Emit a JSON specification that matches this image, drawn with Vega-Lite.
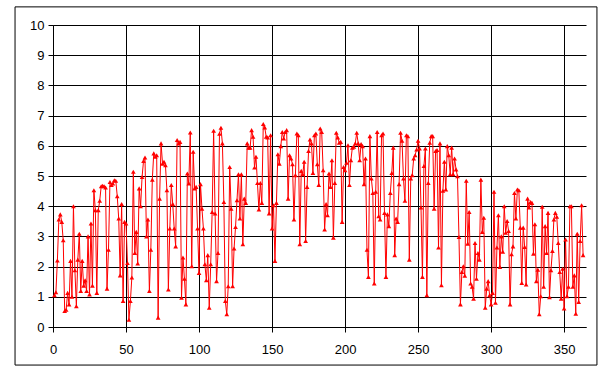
{
"$schema": "https://vega.github.io/schema/vega-lite/v6.json",
"width": 533, "height": 302,
"autosize": {"type": "none"},
"padding": {"left": 53, "top": 25, "right": 13, "bottom": 40},
"background": "white",
"config": {"view": {"stroke": null},
 "axis": {"title": null, "grid": true, "gridColor": "#000", "gridWidth": 1, "gridOpacity": 1, "domainColor": "#000", "tickColor": "#000", "tickSize": 5, "labelFont": "Liberation Sans", "labelFontSize": 13, "labelColor": "#000", "labelFlush": false, "labelOverlap": false}},
"layer": [
 {"data": {"values": [
{"day":1,"v":1.05},{"day":2,"v":1.15},{"day":3,"v":2.2},{"day":4,"v":3.56},{"day":5,"v":3.73},{"day":6,"v":3.48},{"day":7,"v":2.87},{"day":8,"v":0.53},{"day":9,"v":0.57},{"day":10,"v":1.13},
{"day":11,"v":0.75},{"day":12,"v":2.19},{"day":13,"v":1.0},{"day":14,"v":4.0},{"day":15,"v":1.88},{"day":16,"v":0.69},{"day":17,"v":2.23},{"day":18,"v":3.09},{"day":19,"v":1.19},{"day":20,"v":2.19},
{"day":21,"v":1.37},{"day":22,"v":1.55},{"day":23,"v":1.19},{"day":24,"v":3.0},{"day":25,"v":1.08},{"day":26,"v":3.43},{"day":27,"v":1.37},{"day":28,"v":4.53},{"day":29,"v":3.87},{"day":30,"v":1.13},
{"day":31,"v":3.87},{"day":32,"v":4.18},{"day":33,"v":4.66},{"day":34,"v":4.68},{"day":35,"v":4.66},{"day":36,"v":4.62},{"day":37,"v":1.27},{"day":38,"v":2.56},{"day":39,"v":4.8},{"day":40,"v":4.7},
{"day":41,"v":4.75},{"day":42,"v":4.86},{"day":43,"v":4.84},{"day":44,"v":4.33},{"day":45,"v":3.59},{"day":46,"v":1.71},{"day":47,"v":4.07},{"day":48,"v":0.86},{"day":49,"v":3.48},{"day":50,"v":3.43},
{"day":51,"v":2.12},{"day":52,"v":0.24},{"day":53,"v":0.86},{"day":54,"v":1.64},{"day":55,"v":5.14},{"day":56,"v":2.45},{"day":57,"v":3.15},{"day":58,"v":2.1},{"day":59,"v":4.59},{"day":60,"v":4.0},
{"day":61,"v":4.97},{"day":62,"v":5.5},{"day":63,"v":5.61},{"day":64,"v":3.0},{"day":65,"v":3.56},{"day":66,"v":1.19},{"day":67,"v":2.56},{"day":68,"v":4.88},{"day":69,"v":5.75},{"day":70,"v":5.64},
{"day":71,"v":5.69},{"day":72,"v":0.31},{"day":73,"v":4.25},{"day":74,"v":6.08},{"day":75,"v":5.41},{"day":76,"v":5.47},{"day":77,"v":5.36},{"day":78,"v":4.53},{"day":79,"v":1.24},{"day":80,"v":3.26},
{"day":81,"v":4.7},{"day":82,"v":4.07},{"day":83,"v":3.26},{"day":84,"v":2.67},{"day":85,"v":6.19},{"day":86,"v":6.08},{"day":87,"v":6.13},{"day":88,"v":0.97},{"day":89,"v":2.3},{"day":90,"v":1.6},
{"day":91,"v":0.75},{"day":92,"v":5.08},{"day":93,"v":4.75},{"day":94,"v":6.44},{"day":95,"v":2.01},{"day":96,"v":5.8},{"day":97,"v":4.59},{"day":98,"v":4.64},{"day":99,"v":3.26},{"day":100,"v":1.79},
{"day":101,"v":4.73},{"day":102,"v":3.92},{"day":103,"v":3.26},{"day":104,"v":2.08},{"day":105,"v":1.55},{"day":106,"v":2.38},{"day":107,"v":0.64},{"day":108,"v":2.08},{"day":109,"v":3.81},{"day":110,"v":6.5},
{"day":111,"v":3.76},{"day":112,"v":1.52},{"day":113,"v":2.45},{"day":114,"v":6.4},{"day":115,"v":6.6},{"day":116,"v":6.08},{"day":117,"v":4.14},{"day":118,"v":0.86},{"day":119,"v":0.42},{"day":120,"v":1.35},
{"day":121,"v":5.3},{"day":122,"v":3.92},{"day":123,"v":1.35},{"day":124,"v":2.6},{"day":125,"v":3.31},{"day":126,"v":4.2},{"day":127,"v":5.06},{"day":128,"v":3.59},{"day":129,"v":5.06},{"day":130,"v":2.74},
{"day":131,"v":4.25},{"day":132,"v":4.11},{"day":133,"v":6.08},{"day":134,"v":5.94},{"day":135,"v":5.94},{"day":136,"v":6.52},{"day":137,"v":6.3},{"day":138,"v":5.28},{"day":139,"v":5.64},{"day":140,"v":4.77},
{"day":141,"v":3.89},{"day":142,"v":4.77},{"day":143,"v":4.11},{"day":144,"v":6.72},{"day":145,"v":6.61},{"day":146,"v":6.3},{"day":147,"v":6.28},{"day":148,"v":3.76},{"day":149,"v":6.35},{"day":150,"v":3.26},
{"day":151,"v":4.03},{"day":152,"v":2.19},{"day":153,"v":4.11},{"day":154,"v":5.72},{"day":155,"v":5.41},{"day":156,"v":5.99},{"day":157,"v":6.46},{"day":158,"v":6.24},{"day":159,"v":6.46},{"day":160,"v":6.52},
{"day":161,"v":4.25},{"day":162,"v":5.69},{"day":163,"v":5.58},{"day":164,"v":5.39},{"day":165,"v":3.56},{"day":166,"v":5.03},{"day":167,"v":6.41},{"day":168,"v":6.35},{"day":169,"v":2.74},{"day":170,"v":5.17},
{"day":171,"v":5.06},{"day":172,"v":5.47},{"day":173,"v":2.85},{"day":174,"v":4.64},{"day":175,"v":5.83},{"day":176,"v":6.21},{"day":177,"v":6.08},{"day":178,"v":5.1},{"day":179,"v":6.35},{"day":180,"v":6.41},
{"day":181,"v":5.39},{"day":182,"v":4.7},{"day":183,"v":6.57},{"day":184,"v":6.46},{"day":185,"v":5.19},{"day":186,"v":3.23},{"day":187,"v":4.07},{"day":188,"v":3.7},{"day":189,"v":5.08},{"day":190,"v":4.64},
{"day":191,"v":5.52},{"day":192,"v":2.96},{"day":193,"v":4.77},{"day":194,"v":6.43},{"day":195,"v":6.28},{"day":196,"v":6.1},{"day":197,"v":6.13},{"day":198,"v":3.48},{"day":199,"v":5.3},{"day":200,"v":5.19},
{"day":201,"v":5.44},{"day":202,"v":6.02},{"day":203,"v":4.7},{"day":204,"v":5.52},{"day":205,"v":5.94},{"day":206,"v":5.97},{"day":207,"v":6.08},{"day":208,"v":6.43},{"day":209,"v":6.08},{"day":210,"v":5.52},
{"day":211,"v":6.06},{"day":212,"v":5.99},{"day":213,"v":4.73},{"day":214,"v":5.58},{"day":215,"v":2.56},{"day":216,"v":1.66},{"day":217,"v":6.32},{"day":218,"v":4.92},{"day":219,"v":4.44},{"day":220,"v":1.44},
{"day":221,"v":4.48},{"day":222,"v":6.46},{"day":223,"v":3.67},{"day":224,"v":3.56},{"day":225,"v":6.35},{"day":226,"v":6.41},{"day":227,"v":3.78},{"day":228,"v":1.66},{"day":229,"v":3.73},{"day":230,"v":3.34},
{"day":231,"v":4.44},{"day":232,"v":5.1},{"day":233,"v":5.94},{"day":234,"v":2.38},{"day":235,"v":3.59},{"day":236,"v":3.48},{"day":237,"v":4.73},{"day":238,"v":6.43},{"day":239,"v":6.17},{"day":240,"v":4.92},
{"day":241,"v":4.18},{"day":242,"v":6.35},{"day":243,"v":6.32},{"day":244,"v":2.23},{"day":245,"v":4.92},{"day":246,"v":5.03},{"day":247,"v":5.58},{"day":248,"v":5.69},{"day":249,"v":5.88},{"day":250,"v":6.17},
{"day":251,"v":5.91},{"day":252,"v":3.96},{"day":253,"v":1.66},{"day":254,"v":5.33},{"day":255,"v":5.91},{"day":256,"v":1.05},{"day":257,"v":4.77},{"day":258,"v":6.1},{"day":259,"v":6.32},{"day":260,"v":6.32},
{"day":261,"v":3.92},{"day":262,"v":5.83},{"day":263,"v":5.86},{"day":264,"v":2.63},{"day":265,"v":6.08},{"day":266,"v":1.38},{"day":267,"v":4.51},{"day":268,"v":5.47},{"day":269,"v":4.55},{"day":270,"v":5.99},
{"day":271,"v":5.69},{"day":272,"v":5.06},{"day":273,"v":5.94},{"day":274,"v":5.06},{"day":275,"v":5.58},{"day":276,"v":5.22},{"day":277,"v":4.99},{"day":278,"v":2.98},{"day":279,"v":0.75},{"day":280,"v":1.82},
{"day":281,"v":2.01},{"day":282,"v":1.7},{"day":283,"v":4.84},{"day":284,"v":2.76},{"day":285,"v":3.81},{"day":286,"v":1.44},{"day":287,"v":1.33},{"day":288,"v":0.94},{"day":289,"v":2.78},{"day":290,"v":1.6},
{"day":291,"v":2.45},{"day":292,"v":2.23},{"day":293,"v":4.88},{"day":294,"v":3.15},{"day":295,"v":3.62},{"day":296,"v":0.64},{"day":297,"v":1.27},{"day":298,"v":1.52},{"day":299,"v":1.05},{"day":300,"v":0.75},
{"day":301,"v":1.13},{"day":302,"v":4.48},{"day":303,"v":0.8},{"day":304,"v":2.63},{"day":305,"v":3.7},{"day":306,"v":1.99},{"day":307,"v":3.0},{"day":308,"v":2.49},{"day":309,"v":4.0},{"day":310,"v":3.12},
{"day":311,"v":3.51},{"day":312,"v":3.18},{"day":313,"v":0.75},{"day":314,"v":2.41},{"day":315,"v":2.67},{"day":316,"v":4.44},{"day":317,"v":3.59},{"day":318,"v":4.55},{"day":319,"v":4.53},{"day":320,"v":3.29},
{"day":321,"v":1.46},{"day":322,"v":3.29},{"day":323,"v":2.65},{"day":324,"v":1.41},{"day":325,"v":4.25},{"day":326,"v":3.96},{"day":327,"v":4.14},{"day":328,"v":4.11},{"day":329,"v":2.43},{"day":330,"v":3.4},
{"day":331,"v":1.52},{"day":332,"v":1.9},{"day":333,"v":0.42},{"day":334,"v":1.02},{"day":335,"v":3.98},{"day":336,"v":1.33},{"day":337,"v":3.34},{"day":338,"v":2.45},{"day":339,"v":3.78},{"day":340,"v":0.99},
{"day":341,"v":1.88},{"day":342,"v":2.52},{"day":343,"v":3.56},{"day":344,"v":3.78},{"day":345,"v":3.65},{"day":346,"v":2.78},{"day":347,"v":1.82},{"day":348,"v":0.94},{"day":349,"v":1.93},{"day":350,"v":0.61},
{"day":351,"v":2.9},{"day":352,"v":1.02},{"day":353,"v":1.33},{"day":354,"v":4.0},{"day":355,"v":4.0},{"day":356,"v":1.33},{"day":357,"v":1.71},{"day":358,"v":0.44},{"day":359,"v":3.09},{"day":360,"v":0.83},
{"day":361,"v":2.85},{"day":362,"v":4.03},{"day":363,"v":2.38}
 ]},
  "mark": {"type": "line", "color": "#ff0000", "strokeWidth": 1, "point": {"shape": "triangle-up", "filled": true, "size": 22, "color": "#ff0000"}},
  "encoding": {
   "x": {"field": "day", "type": "quantitative", "scale": {"domain": [0, 365], "nice": false, "zero": false}, "axis": {"values": [0, 50, 100, 150, 200, 250, 300, 350], "labelPadding": 11}},
   "y": {"field": "v", "type": "quantitative", "scale": {"domain": [0, 10], "nice": false}, "axis": {"values": [0, 1, 2, 3, 4, 5, 6, 7, 8, 9, 10], "labelPadding": 4}}
  }},
 {"data": {"values": [{}]},
  "mark": {"type": "rect", "clip": false, "filled": false, "stroke": "#000", "strokeWidth": 1},
  "encoding": {
   "x": {"datum": -26, "type": "quantitative", "axis": {"values": [0, 50, 100, 150, 200, 250, 300, 350], "labelPadding": 11}},
   "x2": {"datum": 372.5},
   "y": {"datum": 10.6, "type": "quantitative", "axis": {"values": [0, 1, 2, 3, 4, 5, 6, 7, 8, 9, 10], "labelPadding": 4}},
   "y2": {"datum": -1.26}}}
]
}
